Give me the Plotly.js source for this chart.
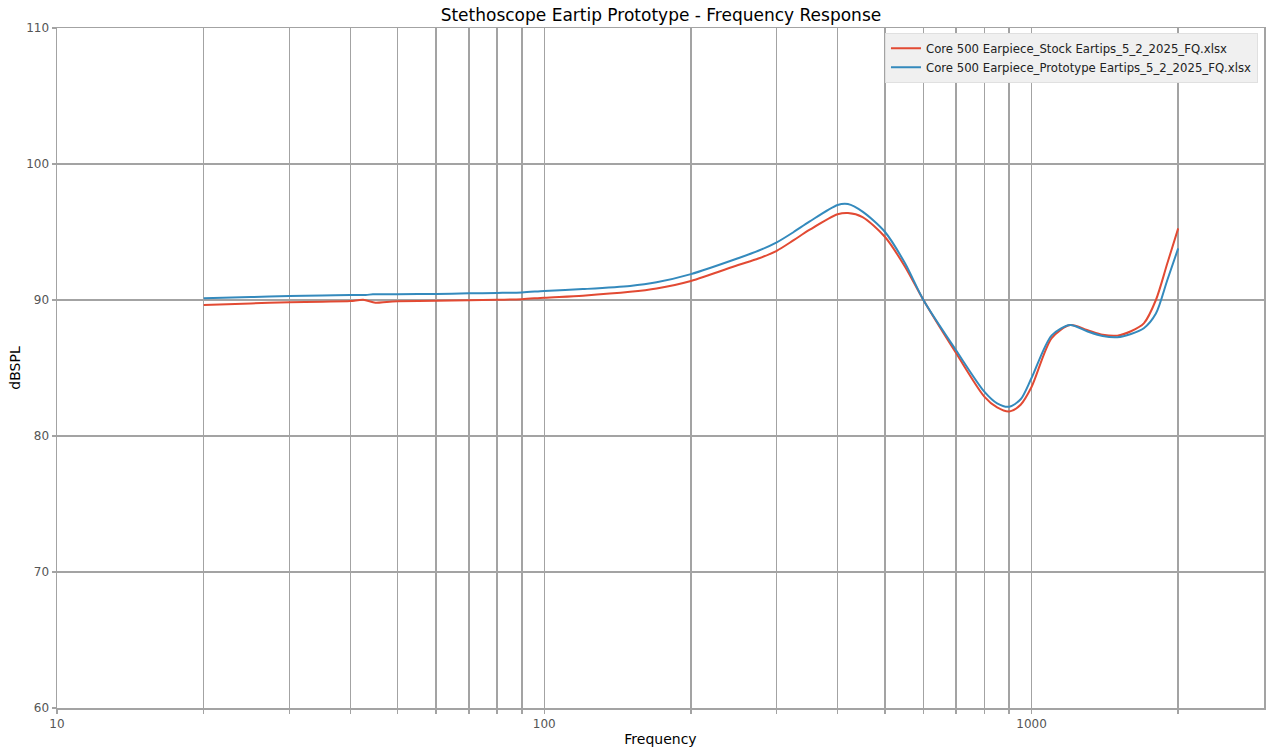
<!DOCTYPE html>
<html>
<head>
<meta charset="utf-8">
<script src="https://cdn.plot.ly/plotly-3.0.1.min.js"></script>
<style>
  html, body { margin: 0; padding: 0; background: #fff; }
  #chart { width: 1271px; height: 754px; }
</style>
</head>
<body>
<div id="chart"></div>
<script>
// frequencies (Hz) and levels (dBSPL)
const stockFreq = [20, 25, 30, 35, 40, 42.5, 45, 47.5, 50, 60, 70, 80, 90, 100, 120, 150, 170, 200, 250, 275, 300, 325, 350, 400, 420, 450, 500, 550, 600, 700, 800, 850, 900, 950, 1000, 1100, 1200, 1300, 1400, 1500, 1600, 1700, 1800, 1900, 2000]
const stockDb   = [89.63, 89.75, 89.84, 89.88, 89.92, 90.02, 89.8, 89.86, 89.9, 89.95, 89.98, 90.01, 90.06, 90.17, 90.32, 90.6, 90.85, 91.4, 92.57, 93.05, 93.62, 94.4, 95.15, 96.3, 96.4, 96.1, 94.65, 92.45, 90.0, 86.1, 82.9, 82.1, 81.8, 82.3, 83.6, 87.2, 88.16, 87.8, 87.45, 87.38, 87.7, 88.28, 90.0, 92.7, 95.27]

const protoFreq = [20, 25, 30, 35, 40, 43, 44.5, 47.5, 50, 60, 70, 80, 90, 100, 120, 150, 170, 200, 250, 275, 300, 325, 350, 400, 420, 450, 500, 550, 600, 700, 800, 850, 900, 950, 1000, 1100, 1200, 1300, 1400, 1500, 1600, 1700, 1800, 1900, 2000]
const protoDb   = [90.13, 90.22, 90.29, 90.33, 90.37, 90.37, 90.42, 90.42, 90.43, 90.45, 90.49, 90.52, 90.56, 90.66, 90.8, 91.03, 91.3, 91.9, 93.07, 93.62, 94.24, 95.0, 95.76, 96.99, 97.06, 96.5, 95.02, 92.7, 90.0, 86.3, 83.26, 82.4, 82.15, 82.7, 84.26, 87.4, 88.16, 87.7, 87.35, 87.26, 87.5, 87.92, 89.0, 91.47, 93.8]

const stockName = 'Core 500 Earpiece_Stock Eartips_5_2_2025_FQ.xlsx'
const protoName = 'Core 500 Earpiece_Prototype Eartips_5_2_2025_FQ.xlsx'

// gridlines at every 1-9 step, labels only on decades
const xTicks = [10, 20, 30, 40, 50, 60, 70, 80, 90, 100, 200, 300, 400, 500, 600, 700, 800, 900, 1000, 2000]
const xLabels = ['10', '', '', '', '', '', '', '', '', '100', '', '', '', '', '', '', '', '', '1000', '']
const yTicks = [60, 70, 80, 90, 100, 110]

const gridColor = '#a3a3a3'

let stock = {
  x: stockFreq,
  y: stockDb,
  name: stockName,
  type: 'scatter',
  mode: 'lines',
  line: { color: '#E24A33', width: 2, shape: 'spline', smoothing: 0.8 }
}

let proto = {
  x: protoFreq,
  y: protoDb,
  name: protoName,
  type: 'scatter',
  mode: 'lines',
  line: { color: '#348ABD', width: 2, shape: 'spline', smoothing: 0.8 }
}

let layout = {
  width: 1271,
  height: 754,
  margin: { l: 57, r: 7, t: 28, b: 46 },
  paper_bgcolor: '#fff',
  plot_bgcolor: '#fff',
  font: { family: 'DejaVu Sans', size: 12, color: '#555' },
  title: {
    text: 'Stethoscope Eartip Prototype - Frequency Response',
    font: { family: 'DejaVu Sans', size: 17, color: '#000' },
    x: 0.52, xanchor: 'center', y: 0.98, yanchor: 'middle'
  },
  showlegend: true,
  legend: {
    x: 0.995, xanchor: 'right', y: 0.993, yanchor: 'top',
    bgcolor: '#f0f0f0', bordercolor: '#e0e0e0', borderwidth: 1,
    font: { family: 'DejaVu Sans', size: 11.7, color: '#222' },
    itemwidth: 30,
    tracegroupgap: 0
  },
  xaxis: {
    type: 'log',
    range: [1, Math.log10(3000)],
    tickvals: xTicks,
    ticktext: xLabels,
    ticks: 'outside', ticklen: 4, tickcolor: gridColor, tickwidth: 1.5,
    showgrid: true, gridcolor: gridColor, gridwidth: 1.5,
    showline: true, linecolor: gridColor, linewidth: 1.5, mirror: true,
    zeroline: false,
    title: { text: 'Frequency', font: { size: 14, color: '#000' }, standoff: 4 }
  },
  yaxis: {
    range: [60, 110],
    tickvals: yTicks,
    ticks: 'outside', ticklen: 4, tickcolor: gridColor, tickwidth: 1.5,
    showgrid: true, gridcolor: gridColor, gridwidth: 1.5,
    showline: true, linecolor: gridColor, linewidth: 1.5, mirror: true,
    zeroline: false,
    title: { text: 'dBSPL', font: { size: 14, color: '#000' }, standoff: 2 }
  }
}

Plotly.newPlot('chart', [stock, proto], layout, { displayModeBar: false, staticPlot: true })
</script>
</body>
</html>
